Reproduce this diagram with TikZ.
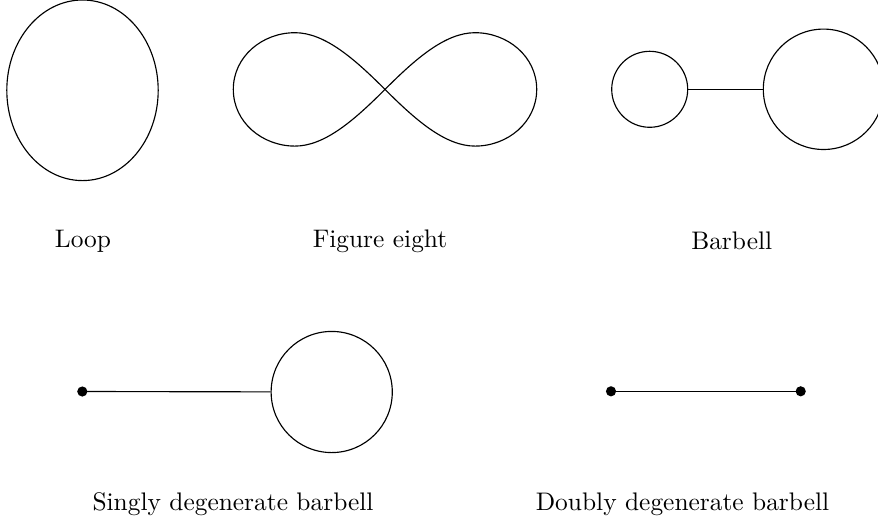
\documentclass[tikz,border=0pt]{standalone}
\usetikzlibrary{shapes.geometric}
\begin{document}
\begin{tikzpicture}[x=0.3937pt,y=-0.3937pt,
  ring/.style={circle,draw,inner sep=0pt,line width=0.45pt},
  vdot/.style={circle,fill=black,inner sep=0pt,minimum size=4pt},
  edge/.style={line width=0.45pt},
  lbl/.style={anchor=base,inner sep=0pt}]
\useasboundingbox (0,0) rectangle (878,524);
% Loop
\node[ellipse,draw,inner sep=0pt,line width=0.45pt,minimum width=59.6pt,minimum height=71.1pt] (loop) at (82.5,90.3) {};
\node[lbl] (tloop) at (83,247) {Loop};
% Figure eight
\coordinate (c8) at (385,89.4);
\draw[edge] (c8) .. controls (415,59.4) and (445,32.7) .. (475,32.7)
  .. controls (507.8,32.7) and (536.7,56.6) .. (536.7,89.4)
  .. controls (536.7,122.2) and (507.8,146.1) .. (475,146.1)
  .. controls (445,146.1) and (415,119.4) .. (c8)
  .. controls (355,59.4) and (325,32.7) .. (295,32.7)
  .. controls (262.2,32.7) and (233.3,56.6) .. (233.3,89.4)
  .. controls (233.3,122.2) and (262.2,146.1) .. (295,146.1)
  .. controls (325,146.1) and (355,119.4) .. (c8);
\node[lbl] (t8) at (380,247) {Figure eight};
% Barbell
\node[ring,minimum size=29.92pt] (bs) at (649.7,89.3) {};
\node[ring,minimum size=47.4pt] (bl) at (823.5,89.3) {};
\draw[edge] (bs) -- (bl);
\node[lbl] (tbar) at (731.7,249) {Barbell};
% Singly degenerate barbell
\node[vdot] (sd) at (82.3,391.5) {};
\node[ring,minimum size=47.7pt] (sc) at (331.7,392) {};
\draw[edge] (sd.center) -- (sc);
\node[lbl] (tsing) at (233,510) {Singly degenerate barbell};
% Doubly degenerate barbell
\node[vdot] (da) at (611,391.3) {};
\node[vdot] (db) at (800.7,391.3) {};
\draw[edge] (da.center) -- (db.center);
\node[lbl] (tdoub) at (682.5,510) {Doubly degenerate barbell};
\end{tikzpicture}
\end{document}
